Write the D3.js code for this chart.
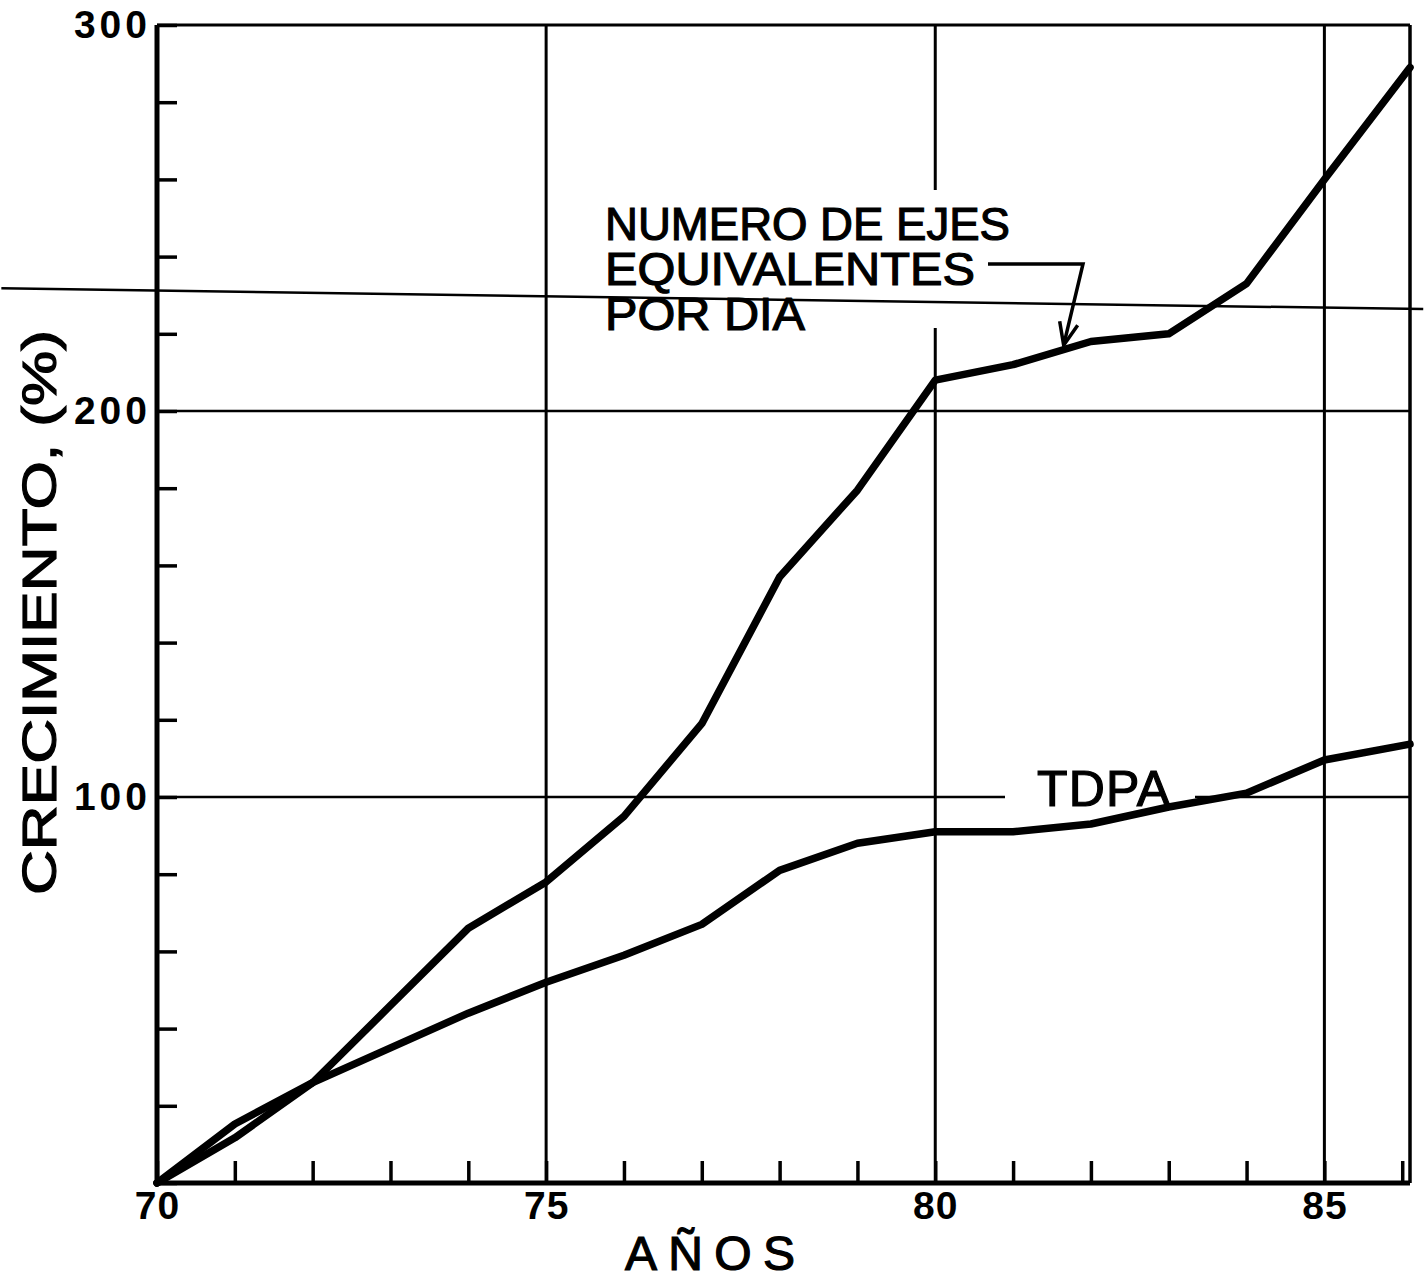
<!DOCTYPE html>
<html>
<head>
<meta charset="utf-8">
<script src="https://cdn.jsdelivr.net/npm/d3@7"></script>
<style>
  html, body { margin: 0; padding: 0; background: #fff; }
  svg { display: block; }
</style>
</head>
<body>
<svg id="chart" width="1425" height="1281"></svg>
<script>
// ---- data ----
const years = [70, 71, 72, 73, 74, 75, 76, 77, 78, 79, 80, 81, 82, 83, 84, 85, 86.1];
const ejesEquivalentes = [0, 11.7, 26, 46, 66, 78, 95, 119, 157, 179.5, 208, 212, 218, 220, 233, 260, 289];
const tdpa = [0, 15.3, 26, 35, 44, 52, 59, 67, 81, 88, 91, 91, 93, 97.4, 101, 109.6, 113.7];
const xTickValues = [70, 71, 72, 73, 74, 75, 76, 77, 78, 79, 80, 81, 82, 83, 84, 85, 86];
const xTickLabels = ["70", "", "", "", "", "75", "", "", "", "", "80", "", "", "", "", "85", ""];
const yTickValues = [0, 20, 40, 60, 80, 100, 120, 140, 160, 180, 200, 220, 240, 260, 280, 300];
const yTickLabels = ["", "", "", "", "", "100", "", "", "", "", "200", "", "", "", "", "300"];
const xGrid = [75, 80, 85];
const yGrid = [100, 200];
const foldLineX = [68, 86.27];
const foldLineY = [231.8, 226.4];
const seriesLabels = ["NUMERO DE EJES", "EQUIVALENTES", "POR DIA"];
const tdpaLabel = "TDPA";
const xTitle = "AÑOS";
const yTitle = "CRECIMIENTO, (%)";

// ---- layout ----
const svg = d3.select("#chart");
const x = d3.scaleLinear().domain([70, 86.1]).range([157, 1410]);
const y = d3.scaleLinear().domain([0, 300]).range([1183, 25]);
const font = "'Liberation Sans', Arial, sans-serif";

// gridlines
svg.append("g").selectAll("line").data(xGrid).join("line")
  .attr("x1", d => x(d)).attr("x2", d => x(d))
  .attr("y1", y(0)).attr("y2", y(300))
  .attr("stroke", "#000").attr("stroke-width", 3);
svg.append("g").selectAll("line").data(yGrid).join("line")
  .attr("x1", x(70)).attr("x2", x(86.1))
  .attr("y1", d => y(d)).attr("y2", d => y(d))
  .attr("stroke", "#000").attr("stroke-width", 2.5);

// white backgrounds behind labels (gaps in the grid)
svg.append("rect").attr("x", 598).attr("y", 190).attr("width", 420).attr("height", 138).attr("fill", "#fff");
svg.append("rect").attr("x", 1005).attr("y", 765).attr("width", 190).attr("height", 45).attr("fill", "#fff");

// tilted fold line
svg.append("line")
  .attr("x1", x(foldLineX[0])).attr("y1", y(foldLineY[0]))
  .attr("x2", x(foldLineX[1])).attr("y2", y(foldLineY[1]))
  .attr("stroke", "#000").attr("stroke-width", 2.5);

// frame: top and right
svg.append("line").attr("x1", x(70)).attr("x2", x(86.1)).attr("y1", y(300)).attr("y2", y(300))
  .attr("stroke", "#000").attr("stroke-width", 3);
svg.append("line").attr("x1", x(86.1)).attr("x2", x(86.1)).attr("y1", y(300)).attr("y2", y(0))
  .attr("stroke", "#000").attr("stroke-width", 3.5);

// axes
const xAxis = d3.axisBottom(x).tickValues(xTickValues)
  .tickFormat((d, i) => xTickLabels[i]).tickSizeInner(-22).tickSizeOuter(0).tickPadding(8);
const gx = svg.append("g").attr("transform", `translate(0,${y(0)})`).call(xAxis);
gx.select(".domain").attr("stroke-width", 5).attr("d", `M${x(70)},0H${x(86.1)}`);
gx.selectAll(".tick line").attr("stroke-width", 3.5);
gx.selectAll("text").attr("font-family", font).attr("font-weight", "bold")
  .attr("font-size", 39).attr("fill", "#000").attr("letter-spacing", 1);

const yAxis = d3.axisLeft(y).tickValues(yTickValues)
  .tickFormat((d, i) => yTickLabels[i]).tickSizeInner(-20).tickSizeOuter(0).tickPadding(6);
const gy = svg.append("g").attr("transform", `translate(${x(70)},0)`).call(yAxis);
gy.select(".domain").attr("stroke-width", 5).attr("d", `M0,${y(0)}V${y(300)}`);
gy.selectAll(".tick line").attr("stroke-width", 3.5);
gy.selectAll("text").attr("font-family", font).attr("font-weight", "bold")
  .attr("font-size", 39).attr("fill", "#000").attr("letter-spacing", 4);

// curves
const line = d3.line().x(d => x(d[0])).y(d => y(d[1])).curve(d3.curveLinear);
[ejesEquivalentes, tdpa].forEach(vals => {
  svg.append("path")
    .datum(years.map((yr, i) => [yr, vals[i]]))
    .attr("d", line)
    .attr("fill", "none").attr("stroke", "#000").attr("stroke-width", 7.5)
    .attr("stroke-linejoin", "round").attr("stroke-linecap", "round");
});

// series labels
const lab = svg.append("g").attr("font-family", font).attr("fill", "#000")
  .attr("stroke", "#000").attr("stroke-width", 1.2).attr("font-size", 47);
const labWidths = [405, 370, 200];
seriesLabels.forEach((t, i) => {
  lab.append("text").attr("x", 605).attr("y", 240 + i * 45)
    .attr("textLength", labWidths[i]).attr("lengthAdjust", "spacingAndGlyphs").text(t);
});
lab.append("text").attr("x", 1037).attr("y", 806).attr("font-size", 50)
  .attr("textLength", 133).attr("lengthAdjust", "spacing").text(tdpaLabel);

// leader with arrow for ejes label
const tip = [x(81.65), y(215.5) - 6];
svg.append("path")
  .attr("d", `M988,264 H1083 L${tip[0]},${tip[1]}`)
  .attr("fill", "none").attr("stroke", "#000").attr("stroke-width", 3.5);
svg.append("path")
  .attr("d", `M${tip[0] - 4},${tip[1] - 24} L${tip[0]},${tip[1]} L${tip[0] + 14},${tip[1] - 20}`)
  .attr("fill", "none").attr("stroke", "#000").attr("stroke-width", 3.5);

// axis titles
svg.append("text").attr("x", 625).attr("y", 1270)
  .attr("font-family", font).attr("font-size", 48).attr("fill", "#000")
  .attr("stroke", "#000").attr("stroke-width", 1.2)
  .attr("textLength", 170).attr("lengthAdjust", "spacing").text(xTitle);
svg.append("text")
  .attr("transform", "translate(56,895) rotate(-90)")
  .attr("font-family", font).attr("font-size", 48).attr("fill", "#000")
  .attr("stroke", "#000").attr("stroke-width", 1.2)
  .attr("textLength", 565).attr("lengthAdjust", "spacingAndGlyphs").text(yTitle);
</script>
</body>
</html>
